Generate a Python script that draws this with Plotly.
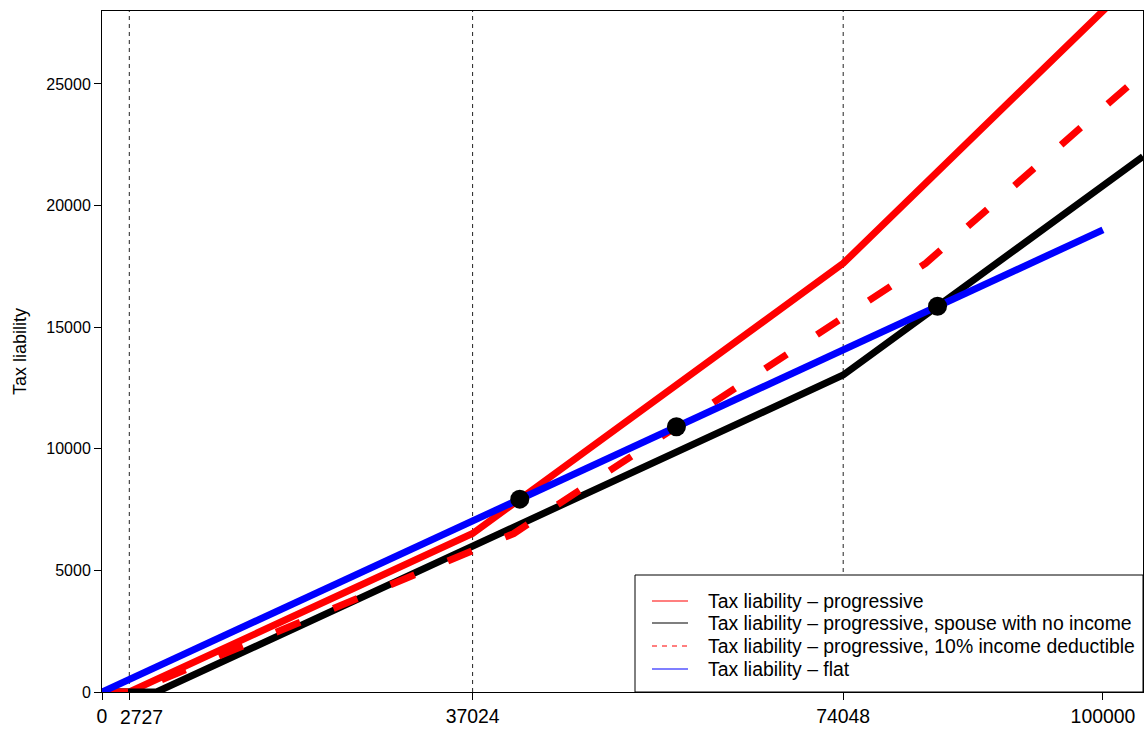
import plotly.graph_objects as go

# Bracket thresholds marked on the income axis
brackets = [2727, 37024, 74048]
x_ticks = [0, 2727, 37024, 74048, 100000]
y_ticks = [0, 5000, 10000, 15000, 20000, 25000]

# Tax liability curves (income -> tax), vertices at the kinks
prog_x = [0, 2727, 37024, 74048, 104000]
prog_y = [0, 0, 6516, 17623, 29604]

spouse_x = [0, 5454, 74048, 104000]
spouse_y = [0, 0, 13032, 22018]

deduct_x = [0, 3030, 41138, 82276, 104000]
deduct_y = [0, 0, 6516, 17623, 25444]

flat_x = [0, 100000]
flat_y = [0, 19000]

# Break-even points between the flat and progressive schedules
cross_x = [41736, 57388, 83473]
cross_y = [7930, 10904, 15860]

labels = [
    "Tax liability \u2013 progressive",
    "Tax liability \u2013 progressive, spouse with no income",
    "Tax liability \u2013 progressive, 10% income deductible",
    "Tax liability \u2013 flat",
]

FONT = "Liberation Sans, Arial, sans-serif"
W = 7
XTICK_SIZE = 19.4

fig = go.Figure()
for b in brackets:
    fig.add_shape(type="line", xref="x", yref="paper", x0=b, x1=b, y0=0, y1=1,
                  line=dict(color="#222222", width=1, dash="4px,4px"), layer="below")

fig.add_trace(go.Scatter(x=prog_x, y=prog_y, mode="lines",
                         line=dict(color="red", width=W), showlegend=False))
fig.add_trace(go.Scatter(x=spouse_x, y=spouse_y, mode="lines",
                         line=dict(color="black", width=W), showlegend=False))
fig.add_trace(go.Scatter(x=deduct_x, y=deduct_y, mode="lines",
                         line=dict(color="red", width=W, dash="26px,36px"), showlegend=False))
fig.add_trace(go.Scatter(x=flat_x, y=flat_y, mode="lines",
                         line=dict(color="blue", width=W), showlegend=False))
fig.add_trace(go.Scatter(x=cross_x, y=cross_y, mode="markers",
                         marker=dict(color="black", size=19), showlegend=False))

# Legend panel in the lower right corner
PW, PH = 1041, 681
def px(v):
    return (v - 102) / PW
def py(v):
    return (692 - v) / PH

fig.add_shape(type="rect", xref="paper", yref="paper",
              x0=px(635), x1=1, y0=0, y1=py(575),
              line=dict(color="black", width=1), fillcolor="white", layer="above")
leg_colors = ["red", "black", "red", "blue"]
leg_dash = ["solid", "solid", "5px,5px", "solid"]
row_y = [601, 623, 646, 669]
for lab, c, d, ry in zip(labels, leg_colors, leg_dash, row_y):
    fig.add_shape(type="line", xref="paper", yref="paper",
                  x0=px(652), x1=px(688), y0=py(ry), y1=py(ry),
                  line=dict(color=c, width=1.2, dash=d), layer="above")
    fig.add_annotation(xref="paper", yref="paper", x=px(706), y=py(ry),
                       text=lab, showarrow=False, xanchor="left", yanchor="middle",
                       font=dict(family=FONT, size=19.4, color="black"))

# The first bracket label sits just right of its tick so it clears the "0"
x_ticklabels = [str(v) for v in x_ticks]
x_ticklabels[1] = ""
fig.add_annotation(xref="x", yref="paper", x=x_ticks[1], y=0, yanchor="middle",
                   xshift=12, yshift=-25, text=str(x_ticks[1]), showarrow=False,
                   font=dict(family=FONT, size=XTICK_SIZE, color="black"))

fig.update_xaxes(range=[0, 104000], tickvals=x_ticks, ticktext=x_ticklabels,
                 tickangle=0, automargin=False,
                 ticks="outside", ticklen=7, tickcolor="black", showgrid=False, zeroline=False,
                 showline=True, mirror=True, linecolor="black", linewidth=1,
                 tickfont=dict(family=FONT, size=XTICK_SIZE, color="black"))
fig.update_yaxes(range=[0, 28000], tickvals=y_ticks, ticktext=[str(v) for v in y_ticks],
                 tickangle=0, automargin=False,
                 ticks="outside", ticklen=7, tickcolor="black", showgrid=False, zeroline=False,
                 showline=True, mirror=True, linecolor="black", linewidth=1,
                 tickfont=dict(family=FONT, size=16, color="black"),
                 title=dict(text="Tax liability", standoff=14,
                            font=dict(family=FONT, size=18, color="black")))

fig.update_layout(width=1144, height=730, margin=dict(l=102, r=1, t=11, b=38),
                  plot_bgcolor="white", paper_bgcolor="white")

fig.write_html("out.html")
